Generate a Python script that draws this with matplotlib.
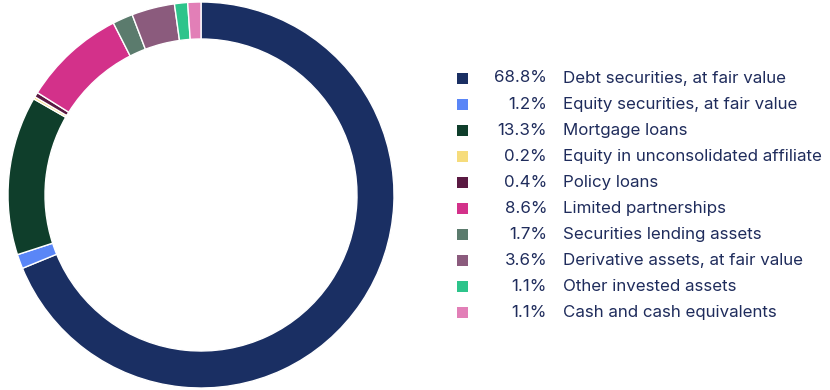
import matplotlib
matplotlib.use("Agg")
import matplotlib.pyplot as plt
from matplotlib.patches import Rectangle

labels = ["Debt securities, at fair value", "Equity securities, at fair value", "Mortgage loans",
          "Equity in unconsolidated affiliate", "Policy loans", "Limited partnerships",
          "Securities lending assets", "Derivative assets, at fair value", "Other invested assets",
          "Cash and cash equivalents"]
values = [68.8, 1.2, 13.3, 0.2, 0.4, 8.6, 1.7, 3.6, 1.1, 1.1]
pct_labels = ["68.8%", "1.2%", "13.3%", "0.2%", "0.4%", "8.6%", "1.7%", "3.6%", "1.1%", "1.1%"]
colors = ["#1a2f63", "#5a86f7", "#0f3e2b", "#f6dc7c", "#5a1942", "#d3318a",
          "#5b7b6d", "#8b5b7d", "#2dc48b", "#e27fb7"]
text_color = "#1f2c5c"

W, H = 830, 390
fig = plt.figure(figsize=(W/100, H/100), dpi=100)
cx, cy, R = 201, 195, 193
ax = fig.add_axes([(cx-195)/W, (H-cy-195)/H, 390/W, 390/H])
ax.pie(values, colors=colors, startangle=90, counterclock=False, radius=1,
       wedgeprops=dict(width=37/193, edgecolor="white", linewidth=1.0))
lim = 195/193
ax.set_xlim(-lim, lim); ax.set_ylim(-lim, lim)
ax.set_aspect("equal")
ax.axis("off")

fam = ["Inter", "DejaVu Sans"]
y0, dy = 78, 26.1
for i, (lab, pct, col) in enumerate(zip(labels, pct_labels, colors)):
    y = y0 + i*dy
    fig.patches.append(Rectangle(((457)/W, (H-y-5.5)/H), 11/W, 11/H, transform=fig.transFigure,
                                 facecolor=col, edgecolor="none"))
    fig.text(547/W, (H-y)/H, pct, ha="right", va="center", fontsize=12.2, color=text_color, family=fam)
    fig.text(563/W, (H-y)/H, lab, ha="left", va="center", fontsize=12.2, color=text_color, family=fam)

fig.savefig("out.png", dpi=100, facecolor="white")
